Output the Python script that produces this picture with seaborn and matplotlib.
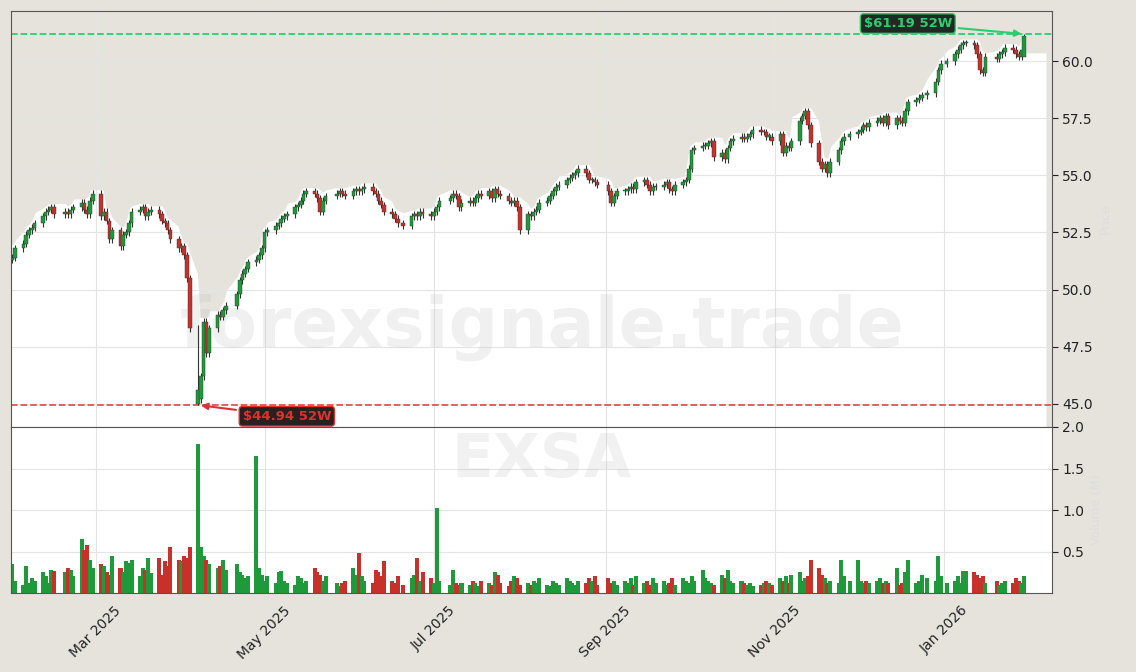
import numpy as np
import pandas as pd
import matplotlib
matplotlib.use("Agg")
import matplotlib.pyplot as plt
import matplotlib.dates as mdates
import seaborn as sns

ticker = "EXSA"
watermark = "forexsignale.trade"
holidays = ["2025-02-17", "2025-04-18", "2025-05-26", "2025-06-19", "2025-07-04", "2025-09-01",
            "2025-11-27", "2025-12-25", "2026-01-01", "2026-01-19"]

closes = [
    51.4, 51.8,
    52.0, 52.4, 52.6, 52.7, 52.9,
    53.2, 53.4, 53.5, 53.6, 53.3,
    53.4, 53.3, 53.5, 53.6,
    53.8, 53.5, 53.3, 53.9, 54.2,
    53.2, 53.4, 53.0, 52.2, 52.6,
    51.9, 52.4, 52.5, 52.9, 53.4,
    53.5, 53.6, 53.2, 53.4, 53.5,
    53.3, 53.0, 52.9, 52.6, 52.2,
    51.8, 51.9, 51.5, 50.5, 48.3,
    45.2, 46.2, 48.6, 47.2, 48.3,
    48.9, 48.8, 49.1, 49.3,
    49.8, 50.4, 50.7, 50.9, 51.2,
    51.3, 51.5, 51.8, 52.5, 52.6,
    52.8, 52.9, 53.1, 53.2, 53.3,
    53.6, 53.7, 53.9, 54.2, 54.3,
    54.2, 54.0, 53.4, 53.9, 54.1,
    54.2, 54.3, 54.2, 54.1,
    54.3, 54.4, 54.3, 54.4, 54.5,
    54.3, 54.2, 53.9, 53.7, 53.4,
    53.3, 53.1, 52.9, 52.8,
    53.2, 53.3, 53.2, 53.4, 53.3,
    53.2, 53.4, 53.6, 53.9,
    54.0, 54.2, 54.1, 53.6, 53.8,
    53.9, 53.8, 54.0, 54.2, 54.1,
    54.3, 54.0, 54.4, 54.2, 54.1,
    53.9, 53.8, 53.9, 53.6, 52.6,
    53.3, 53.2, 53.4, 53.5, 53.8,
    53.9, 54.1, 54.3, 54.5, 54.6,
    54.8, 54.9, 55.0, 55.1, 55.3,
    55.1, 54.8, 54.8, 54.7, 54.6,
    54.3, 53.8, 54.1, 54.3,
    54.3, 54.4, 54.5, 54.4, 54.7,
    54.8, 54.6, 54.3, 54.5, 54.5,
    54.6, 54.7, 54.4, 54.3, 54.6,
    54.7, 54.8, 55.3, 56.1, 56.2,
    56.3, 56.3, 56.4, 56.5, 55.8,
    56.0, 55.7, 56.2, 56.5, 56.6,
    56.7, 56.6, 56.7, 56.8, 57.0,
    56.9, 56.9, 56.7, 56.7, 56.5,
    56.8, 56.0, 56.3, 56.2, 56.5,
    57.4, 57.6, 57.8, 57.2, 56.4,
    55.6, 55.3, 55.5, 55.1, 55.6,
    56.1, 56.5, 56.7, 56.8,
    56.9, 57.0, 57.2, 57.1, 57.3,
    57.4, 57.5, 57.3, 57.6, 57.2,
    57.5, 57.4, 57.3, 57.8, 58.2,
    58.3, 58.4, 58.5, 58.6,
    59.1, 59.6, 59.9, 60.0,
    60.3, 60.5, 60.7, 60.8, 60.8,
    60.7, 60.3, 59.6, 59.5, 60.2,
    60.1, 60.3, 60.4, 60.6,
    60.5, 60.3, 60.2, 60.5, 61.1,
]

volumes = [
    0.35, 0.15,
    0.10, 0.33, 0.12, 0.18, 0.14,
    0.25, 0.20, 0.12, 0.28, 0.26,
    0.25, 0.30, 0.28, 0.20,
    0.65, 0.52, 0.58, 0.40, 0.30,
    0.35, 0.32, 0.25, 0.22, 0.45,
    0.30, 0.25, 0.38, 0.36, 0.40,
    0.20, 0.30, 0.28, 0.42, 0.24,
    0.42, 0.22, 0.38, 0.33, 0.55,
    0.40, 0.38, 0.45, 0.42, 0.56,
    1.80, 0.55, 0.45, 0.40, 0.35,
    0.30, 0.32, 0.40, 0.28,
    0.35, 0.25, 0.22, 0.18, 0.20,
    1.65, 0.30, 0.22, 0.15, 0.20,
    0.12, 0.25, 0.26, 0.15, 0.12,
    0.10, 0.20, 0.18, 0.12, 0.15,
    0.30, 0.25, 0.22, 0.15, 0.20,
    0.12, 0.08, 0.12, 0.15,
    0.30, 0.22, 0.48, 0.20, 0.15,
    0.12, 0.28, 0.25, 0.20, 0.38,
    0.15, 0.12, 0.20, 0.10, 0.18,
    0.22, 0.42, 0.15, 0.25,
    0.18, 0.12, 1.03, 0.15,
    0.10, 0.28, 0.12, 0.10, 0.12,
    0.10, 0.15, 0.12, 0.08, 0.15,
    0.12, 0.10, 0.25, 0.22, 0.12,
    0.08, 0.15, 0.20, 0.18, 0.10,
    0.12, 0.10, 0.15, 0.12, 0.18,
    0.10, 0.08, 0.15, 0.12, 0.10,
    0.18, 0.15, 0.12, 0.10, 0.15,
    0.12, 0.18, 0.15, 0.20, 0.10,
    0.18, 0.12, 0.15, 0.10,
    0.15, 0.12, 0.18, 0.10, 0.20,
    0.12, 0.15, 0.10, 0.18, 0.12,
    0.15, 0.10, 0.12, 0.18, 0.10,
    0.18, 0.15, 0.12, 0.20, 0.15,
    0.28, 0.18, 0.15, 0.12, 0.10,
    0.22, 0.18, 0.28, 0.15, 0.12,
    0.15, 0.12, 0.10, 0.12, 0.08,
    0.10, 0.12, 0.15, 0.12, 0.10,
    0.18, 0.15, 0.20, 0.12, 0.22,
    0.25, 0.15, 0.18, 0.20, 0.40,
    0.30, 0.22, 0.18, 0.12, 0.15,
    0.12, 0.40, 0.20, 0.15,
    0.40, 0.15, 0.12, 0.15, 0.12,
    0.15, 0.18, 0.12, 0.15, 0.12,
    0.30, 0.10, 0.12, 0.25, 0.40,
    0.12, 0.15, 0.22, 0.18,
    0.15, 0.45, 0.20, 0.12,
    0.15, 0.20, 0.12, 0.27, 0.26,
    0.25, 0.22, 0.18, 0.20, 0.12,
    0.15, 0.10, 0.12, 0.15,
    0.12, 0.18, 0.15, 0.12, 0.20,
]

high_52w = 61.19
low_52w = 44.94

sns.set_style("whitegrid")
plt.rcParams['font.family'] = ['DejaVu Sans']

dates = pd.bdate_range("2025-01-30", "2026-01-30")
dates = dates[~dates.isin(pd.to_datetime(holidays))]
n = min(len(dates), len(closes), len(volumes))
dates = dates[len(dates) - n:]
c = np.array(closes[len(closes) - n:])
vols = volumes[len(volumes) - n:]
o = np.concatenate([[c[0] - 0.1], c[:-1]])
hi = np.maximum(o, c) + 0.15
lo = np.minimum(o, c) - 0.15
c_min_i = int(np.argmin(c))
lo[c_min_i] = low_52w
o[c_min_i] = 45.0
c[c_min_i] = 45.6
hi[-1] = high_52w
o[-1] = 60.2
c[-1] = 61.1
df = pd.DataFrame({"date": dates, "open": o, "close": c, "high": hi, "low": lo, "vol": vols})
df["up"] = df["close"] >= df["open"]

BG = "#e6e3dd"
GREEN = "#1f9a3a"
RED = "#c8302a"

fig = plt.figure(figsize=(11.36, 6.72), dpi=100)
fig.patch.set_facecolor(BG)
W, H = 1136, 672
ax = fig.add_axes([11 / W, 1 - 427 / H, (1052 - 11) / W, (427 - 11) / H])
axv = fig.add_axes([11 / W, 1 - 593 / H, (1052 - 11) / W, (593 - 427) / H], sharex=ax)

for a in (ax, axv):
    a.set_facecolor("white")
    a.grid(True, color="#e4e4e4", linewidth=0.8)
    a.yaxis.tick_right()
    a.yaxis.set_label_position("right")
    for s in a.spines.values():
        s.set_color("#555555")
        s.set_linewidth(0.8)
    a.tick_params(axis="y", length=4, labelsize=10, colors="#222222")

xleft = mdates.date2num(pd.Timestamp("2025-01-29 12:00"))
xright = mdates.date2num(pd.Timestamp("2026-02-09"))
xnum = mdates.date2num(df["date"])
env = pd.Series(df["high"]).rolling(3, center=True, min_periods=1).max().values + 0.05
tail = c[-2] - 0.1
fx = np.concatenate([[xleft], xnum, [xnum[-1] + 0.8, xnum[-1] + 0.8, xright - 1.8, xright - 1.8]])
fy = np.concatenate([[env[0]], env, [env[-1], tail, tail, 40]])
ax.fill_between(fx, np.minimum(fy, 62.5), 62.5, color=BG, zorder=0)
ax.fill_between([xright - 1.8, xright], 40, 62.5, color=BG, zorder=0)

wbody = 1.3
for i, r in df.iterrows():
    col = GREEN if r["up"] else RED
    ax.vlines(xnum[i], r["low"], r["high"], color="#333333", linewidth=0.8, zorder=2)
    b0 = min(r["open"], r["close"])
    bh = max(abs(r["close"] - r["open"]), 0.05)
    ax.bar(xnum[i], bh, bottom=b0, width=wbody, color=col, edgecolor="#333333", linewidth=0.3, zorder=3)

axv.bar(xnum, df["vol"], width=1.45, color=[GREEN if u else RED for u in df["up"]], zorder=2, linewidth=0)

ax.axhline(high_52w, color="#2ecc71", linestyle="--", linewidth=1.3, zorder=1)
ax.axhline(low_52w, color="#e05555", linestyle="--", linewidth=1.3, zorder=1)

ax.annotate(f"${high_52w:.2f} 52W", xy=(xnum[-1], high_52w), xytext=(mdates.date2num(pd.Timestamp("2025-12-19")), 61.65),
            color="#2ecc71", fontsize=9.5, fontweight="bold", ha="center", va="center",
            bbox=dict(boxstyle="round,pad=0.25", fc="#1e2a22", ec="#2ecc71", lw=1),
            arrowprops=dict(arrowstyle="-|>", color="#2ecc71", lw=1.5))
ax.annotate(f"${low_52w:.2f} 52W", xy=(xnum[c_min_i], low_52w), xytext=(mdates.date2num(pd.Timestamp("2025-05-09")), 44.45),
            color="#e03030", fontsize=9.5, fontweight="bold", ha="center", va="center",
            bbox=dict(boxstyle="round,pad=0.25", fc="#2a2020", ec="#e03030", lw=1),
            arrowprops=dict(arrowstyle="-|>", color="#e03030", lw=1.5))

ax.text(0.51, 0.24, watermark, transform=ax.transAxes, fontsize=50, fontweight="bold",
        color="#bbbbbb", alpha=0.22, ha="center", va="center", zorder=1)
axv.text(0.51, 0.8, ticker, transform=axv.transAxes, fontsize=44, fontweight="bold",
         color="#bbbbbb", alpha=0.2, ha="center", va="center", zorder=1)

ax.set_ylim(43.98, 62.2)
ax.set_yticks([45.0, 47.5, 50.0, 52.5, 55.0, 57.5, 60.0])
ax.set_yticklabels(["45.0", "47.5", "50.0", "52.5", "55.0", "57.5", "60.0"])
ax.set_ylabel("Price", color="#dddddd", fontsize=9)
axv.set_ylim(0, 2.0)
axv.set_yticks([0.5, 1.0, 1.5, 2.0])
axv.set_yticklabels(["0.5", "1.0", "1.5", "2.0"])
axv.set_ylabel("Volume (M)", color="#dddddd", fontsize=9)

ax.set_xlim(xleft, xright)
axv.xaxis.set_major_locator(mdates.MonthLocator(bymonth=[3, 5, 7, 9, 11, 1]))
axv.xaxis.set_major_formatter(mdates.DateFormatter("%b %Y"))
plt.setp(ax.get_xticklabels(), visible=False)
ax.tick_params(axis="x", length=0)
axv.tick_params(axis="x", length=4, labelsize=10, colors="#222222")
plt.setp(axv.get_xticklabels(), rotation=45, ha="center")

fig.savefig("out.png", dpi=100, facecolor=BG)
